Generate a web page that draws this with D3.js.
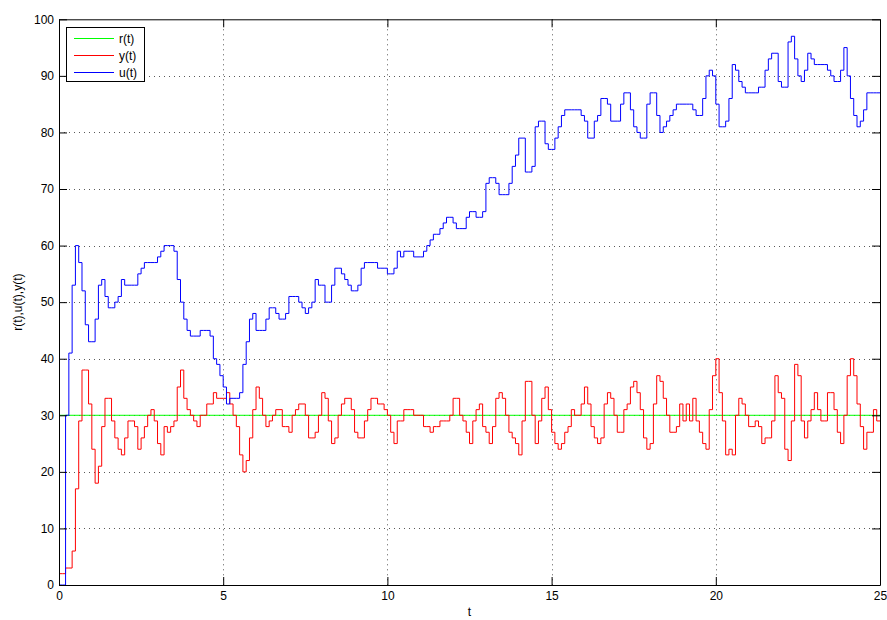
<!DOCTYPE html>
<html><head><meta charset="utf-8">
<script src="https://cdn.jsdelivr.net/npm/d3@7/dist/d3.min.js"></script>
<style>
body{margin:0;background:#fff;}
text{font-family:"Liberation Sans",Arial,Helvetica,sans-serif;font-size:12px;fill:#000;}
</style>
</head><body>
<svg id="chart" width="887" height="620"></svg>
<script>
// ---- data ----
const sampleTime = 0.1;
const xTicks = [0, 5, 10, 15, 20, 25];
const yTicks = [0, 10, 20, 30, 40, 50, 60, 70, 80, 90, 100];
const seriesNames = ["r(t)", "y(t)", "u(t)"];
const seriesColors = ["#00ff00", "#ff0000", "#0000ff"];
const rTimes = [0, 25];
const rValues = [30, 30];
const uValues = [
0,0,30,41,53,60,57,52,46,43, 43,47,53,54,51,49,49,50,51,54,
53,53,53,53,55,56,57,57,57,57, 58,59,60,60,60,59,54,50,47,45,
44,44,44,45,45,45,44,40,39,37, 35,32,33,33,33,34,39,43,47,48,
45,45,45,47,49,49,48,47,47,48, 51,51,51,50,49,48,49,50,54,53,
53,50,50,53,56,56,55,54,53,52, 52,53,56,57,57,57,57,56,56,56,
55,55,56,59,58,59,59,59,58,58, 58,59,60,61,62,62,63,64,65,65,
64,63,63,63,65,66,66,65,65,66, 71,72,72,71,69,69,69,71,74,76,
79,79,73,73,74,81,82,82,78,77, 77,79,81,83,84,84,84,84,84,83,
82,79,79,82,83,86,86,85,82,82, 82,85,87,87,84,81,80,79,79,85,
87,87,83,80,81,82,83,84,85,85, 85,85,85,84,83,83,86,90,91,90,
85,81,81,82,86,92,91,89,88,87, 87,87,87,88,88,91,93,94,94,89,
88,88,96,97,93,90,89,91,94,93, 92,92,92,92,91,90,89,89,91,95,
90,86,83,81,82,84,87,87,87,87
];
const yValues = [
2,2,3,3,6,17,29,38,38,32, 24,18,21,28,33,33,29,26,24,23,
26,29,29,28,24,26,28,30,31,29, 25,23,28,27,28,29,35,38,33,31,
30,29,28,30,30,32,32,34,33,33, 33,34,32,30,28,23,20,22,26,31,
35,33,30,28,29,30,31,31,28,28, 27,30,31,32,32,30,26,26,27,30,
34,33,29,25,26,30,32,33,33,31, 27,26,26,29,31,33,33,32,32,31,
30,27,25,29,29,31,31,31,30,30, 30,28,28,27,28,28,29,29,29,30,
33,33,30,29,27,25,29,31,32,28, 27,25,28,33,34,33,30,27,26,25,
23,29,36,36,30,25,29,33,35,31, 27,25,24,25,27,28,31,30,30,32,
35,32,28,26,25,26,32,34,33,30, 27,27,31,32,35,36,34,31,26,24,
25,32,37,36,33,30,27,27,28,32, 29,32,29,33,29,27,25,24,31,37,
40,34,29,23,24,23,30,33,32,30, 28,28,29,28,25,26,26,29,37,34,
33,24,22,29,39,37,29,26,29,31, 34,31,29,29,34,34,31,27,25,30,
37,40,37,32,28,24,27,27,31,29
];

// ---- layout ----
const W = 887, H = 620;
const plot = {left: 59, right: 880, top: 19.3, bottom: 585};
const svg = d3.select("#chart");
const x = d3.scaleLinear().domain([0, 25]).range([plot.left, plot.right]);
const y = d3.scaleLinear().domain([0, 100]).range([plot.bottom, plot.top]);

svg.append("rect").attr("x",0).attr("y",0).attr("width",W).attr("height",H).attr("fill","#fff");
svg.append("rect").attr("x",plot.left).attr("y",plot.top)
  .attr("width",plot.right-plot.left).attr("height",plot.bottom-plot.top).attr("fill","#fff");

// grid
const grid = svg.append("g").attr("stroke","#222").attr("stroke-width",1).attr("stroke-dasharray","1,4").attr("opacity",0.75);
yTicks.filter(v => v > 0 && v < 100).forEach(v => {
  grid.append("line").attr("x1",plot.left).attr("x2",plot.right)
    .attr("y1",Math.round(y(v))+0.5).attr("y2",Math.round(y(v))+0.5);
});
xTicks.filter(v => v > 0 && v < 25).forEach(v => {
  grid.append("line").attr("y1",plot.top).attr("y2",plot.bottom)
    .attr("x1",Math.round(x(v))+0.5).attr("x2",Math.round(x(v))+0.5);
});

// data lines
svg.append("defs").append("clipPath").attr("id","clip").append("rect")
  .attr("x",plot.left).attr("y",plot.top-1).attr("width",plot.right-plot.left).attr("height",plot.bottom-plot.top+2);
const toPoints = vals => {
  const pts = vals.map((v,i) => ({t: i*sampleTime, v}));
  pts.push({t: vals.length*sampleTime, v: vals[vals.length-1]});
  return pts;
};
const line = d3.line().x(d => x(d.t)).y(d => y(d.v)).curve(d3.curveStepAfter);
const lines = svg.append("g").attr("clip-path","url(#clip)").attr("fill","none").attr("stroke-width",1);
lines.append("path").datum(rTimes.map((t,i)=>({t, v: rValues[i]}))).attr("d", line).attr("stroke", seriesColors[0]);
lines.append("path").datum(toPoints(yValues)).attr("d", line).attr("stroke", seriesColors[1]);
lines.append("path").datum(toPoints(uValues)).attr("d", line).attr("stroke", seriesColors[2]);

// axes
const axLeft = d3.axisLeft(y).tickValues(yTicks).tickFormat(d3.format("d")).tickSizeInner(-8).tickSizeOuter(0).tickPadding(5);
const axBottom = d3.axisBottom(x).tickValues(xTicks).tickFormat(d3.format("d")).tickSizeInner(-8).tickSizeOuter(0).tickPadding(6);
const axRight = d3.axisRight(y).tickValues(yTicks).tickFormat("").tickSizeInner(-8).tickSizeOuter(0);
const axTop = d3.axisTop(x).tickValues(xTicks).tickFormat("").tickSizeInner(-8).tickSizeOuter(0);
function style(g){
  g.selectAll("path,line").attr("stroke","#000").attr("stroke-width",1);
  g.selectAll("text").attr("font-size",12).attr("font-family",'"Liberation Sans",Arial,sans-serif').attr("fill","#000");
}
svg.append("g").attr("transform",`translate(${plot.left},0)`).call(axLeft).call(style);
svg.append("g").attr("transform",`translate(0,${plot.bottom})`).call(axBottom).call(style);
svg.append("g").attr("transform",`translate(${plot.right},0)`).call(axRight).call(style);
svg.append("g").attr("transform",`translate(0,${plot.top})`).call(axTop).call(style);

// axis labels
svg.append("text").attr("x", (plot.left+plot.right)/2).attr("y", 616).attr("text-anchor","middle").text("t");
svg.append("text").attr("transform",`translate(22,${(plot.top+plot.bottom)/2}) rotate(-90)`)
  .attr("text-anchor","middle").text("r(t),u(t),y(t)");

// legend
const lg = svg.append("g");
lg.append("rect").attr("x",66.5).attr("y",27.5).attr("width",78).attr("height",54)
  .attr("fill","#fff").attr("stroke","#000").attr("stroke-width",1);
seriesNames.forEach((name,i) => {
  const yy = 38 + i*17;
  lg.append("line").attr("x1",74).attr("x2",114).attr("y1",yy+0.5).attr("y2",yy+0.5)
    .attr("stroke",seriesColors[i]).attr("stroke-width",1);
  lg.append("text").attr("x",119).attr("y",yy+4.5).text(name);
});
</script>
</body></html>
